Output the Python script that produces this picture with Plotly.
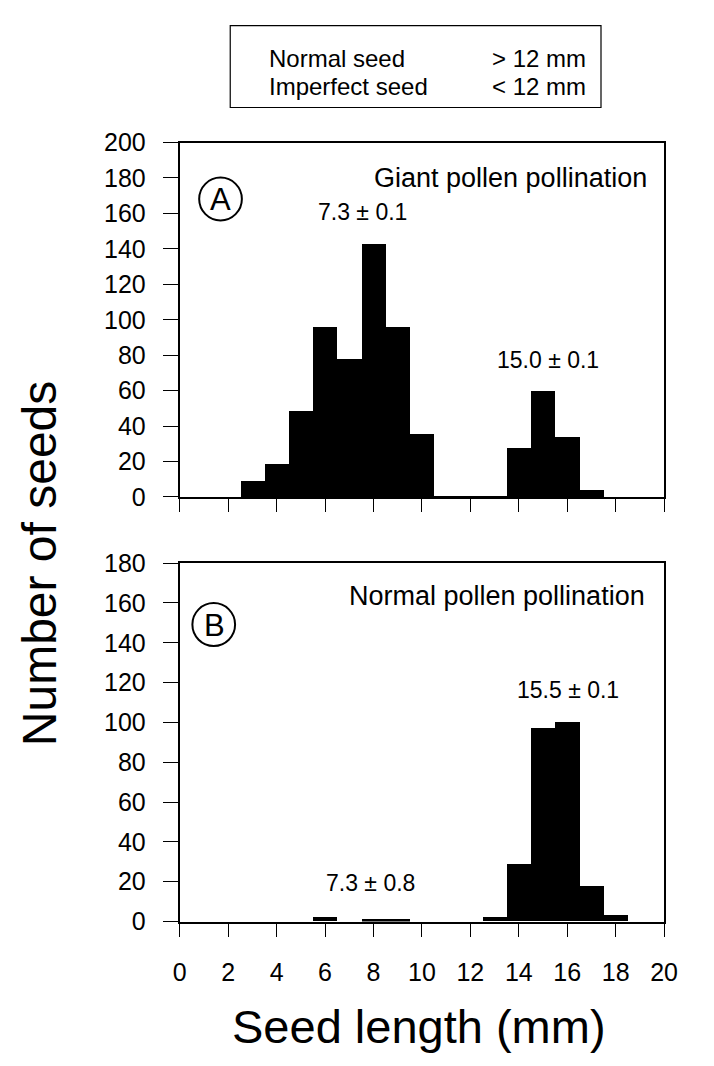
import plotly.graph_objects as go

# ---------------- data ----------------
bin_centers = [1, 2, 3, 4, 5, 6, 7, 8, 9, 10, 11, 12, 13, 14, 15, 16, 17, 18, 19]
counts_giant = [0, 0, 9, 19, 49, 96, 78, 143, 96, 36, 1, 1, 1, 28, 60, 34, 4, 0, 0]
counts_normal = [0, 0, 0, 0, 0, 2, 0, 1, 1, 0, 0, 0, 2, 29, 97, 100, 18, 3, 0]
x_ticks = [0, 2, 4, 6, 8, 10, 12, 14, 16, 18, 20]
y_ticks_a = [0, 20, 40, 60, 80, 100, 120, 140, 160, 180, 200]
y_ticks_b = [0, 20, 40, 60, 80, 100, 120, 140, 160, 180]

W, H = 714, 1066
FONT = "Arial, Liberation Sans, sans-serif"


def px(x):
    return x / W


def py(y):
    return 1 - y / H


fig = go.Figure()
fig.add_trace(go.Bar(x=bin_centers, y=counts_giant, width=1.0,
                     marker=dict(color="black", line=dict(width=0)),
                     xaxis="x", yaxis="y", showlegend=False))
fig.add_trace(go.Bar(x=bin_centers, y=counts_normal, width=1.0,
                     marker=dict(color="black", line=dict(width=0)),
                     xaxis="x2", yaxis="y2", showlegend=False))

xdom = [px(178), px(677)]
common_x = dict(range=[0, 20], tickvals=x_ticks, ticks="outside", ticklen=13,
                tickwidth=1.3, tickcolor="black", showline=True, linecolor="black",
                linewidth=2, mirror=True, showgrid=False, zeroline=False,
                domain=xdom, fixedrange=True)
common_y = dict(ticks="outside", ticklen=15, tickwidth=1.3, tickcolor="black",
                showline=True, linecolor="black", linewidth=2, mirror=True,
                showgrid=False, zeroline=False, fixedrange=True,
                tickfont=dict(family=FONT, size=25, color="black"),
                ticklabelstandoff=12)

fig.update_layout(
    width=W, height=H,
    margin=dict(l=0, r=0, t=0, b=0),
    paper_bgcolor="white", plot_bgcolor="white",
    bargap=0,
    xaxis=dict(**common_x, anchor="y", showticklabels=False),
    yaxis=dict(**common_y, range=[0, 200], tickvals=y_ticks_a,
               domain=[py(496), py(132)], anchor="x"),
    xaxis2=dict(**common_x, anchor="y2", showticklabels=True,
                tickfont=dict(family=FONT, size=25, color="black"),
                ticklabelstandoff=14),
    yaxis2=dict(**common_y, range=[0, 180], tickvals=y_ticks_b,
                domain=[py(932), py(564)], anchor="x2"),
)

annotations = []


def ann(text, x, y, size, xanchor="center", textangle=0):
    annotations.append(dict(text=text, x=px(x), y=py(y), xref="paper", yref="paper",
                            xanchor=xanchor, yanchor="middle", showarrow=False,
                            textangle=textangle,
                            font=dict(family=FONT, size=size, color="black")))


# legend box text
ann("Normal seed", 268, 46, 24, xanchor="left")
ann("Imperfect seed", 268, 74, 24, xanchor="left")
ann("> 12 mm", 498, 46, 24, xanchor="left")
ann("< 12 mm", 498, 74, 24, xanchor="left")

# panel A
ann("Giant pollen pollination", 661, 168, 27, xanchor="right")
ann("7.3 ± 0.1", 366, 203, 23)
ann("15.0 ± 0.1", 557, 355, 23)
ann("A", 220, 191, 31)

# panel B
ann("Normal pollen pollination", 659, 598, 27, xanchor="right")
ann("15.5 ± 0.1", 578, 694, 23)
ann("7.3 ± 0.8", 375, 892, 23)
ann("B", 214, 628, 31)

# axis titles
ann("Number of seeds", 33, 564, 48, textangle=-90)
ann("Seed length (mm)", 424, 1040, 47)

fig.update_layout(annotations=annotations)

shapes = [
    dict(type="rect", xref="paper", yref="paper", x0=px(230), x1=px(612),
         y0=py(96), y1=py(12), line=dict(color="black", width=1.2)),
    dict(type="circle", xref="paper", yref="paper", x0=px(198), x1=px(242),
         y0=py(212), y1=py(168), line=dict(color="black", width=2)),
    dict(type="circle", xref="paper", yref="paper", x0=px(191), x1=px(235),
         y0=py(649), y1=py(605), line=dict(color="black", width=2)),
]
fig.update_layout(shapes=shapes)

fig.write_html("out.html")
